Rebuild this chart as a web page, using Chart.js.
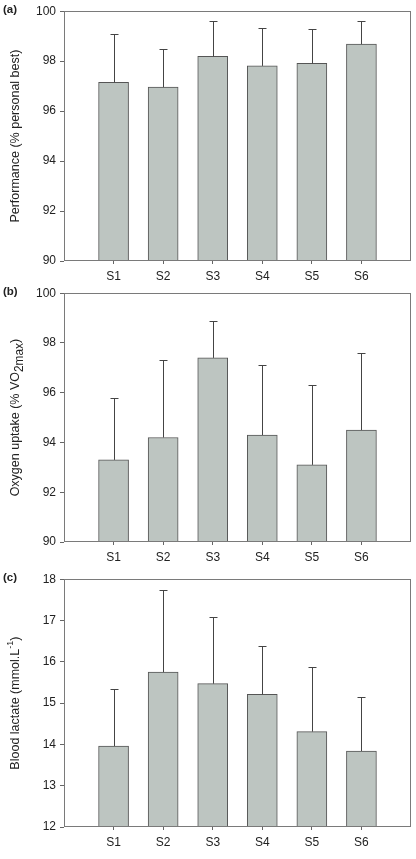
<!DOCTYPE html>
<html><head><meta charset="utf-8">
<script src="https://cdn.jsdelivr.net/npm/chart.js@4"></script>
<style>
html,body{margin:0;padding:0;background:#fff}
body{width:416px;height:859px;position:relative;overflow:hidden}
canvas{position:absolute;left:0}
</style></head>
<body>
<canvas id="ca" width="416" height="291" style="top:0px"></canvas>
<canvas id="cb" width="416" height="290" style="top:282px"></canvas>
<canvas id="cc" width="416" height="289" style="top:568px"></canvas>
<script>
// ---- data ----
const categories = ['S1','S2','S3','S4','S5','S6'];
const performanceMean = [97.15, 96.96, 98.19, 97.81, 97.91, 98.68];
const performanceSD   = [1.92, 1.51, 1.41, 1.52, 1.36, 0.91];
const oxygenMean = [93.3, 94.2, 97.4, 94.3, 93.1, 94.5];
const oxygenSD   = [2.5, 3.1, 1.5, 2.8, 3.2, 3.1];
const lactateMean = [13.96, 15.75, 15.47, 15.21, 14.31, 13.84];
const lactateSD   = [1.39, 1.99, 1.61, 1.18, 1.57, 1.30];
const performanceTicks = {min: 90, max: 100, step: 2};
const oxygenTicks = {min: 90, max: 100, step: 2};
const lactateTicks = {min: 12, max: 18, step: 1};

const FONT = "'Liberation Sans', Arial, Helvetica, sans-serif";
const TEXT = '#222';
const FRAME = '#7a7a7a';

const errorBars = {
  id: 'errorBars',
  afterDatasetsDraw(chart, args, opts) {
    const ctx = chart.ctx, meta = chart.getDatasetMeta(0), ys = chart.scales.y;
    const sd = opts.sd;
    ctx.save();
    ctx.strokeStyle = '#444'; ctx.lineWidth = 1;
    meta.data.forEach((el, i) => {
      const v = chart.data.datasets[0].data[i];
      if (v == null) return;
      const s = sd[i - 1];
      const x = Math.round(el.x) + 0.5;
      const yt = Math.round(ys.getPixelForValue(v + s)) + 0.5;
      const yb = el.y;
      ctx.beginPath();
      ctx.moveTo(x, yb); ctx.lineTo(x, yt);
      ctx.moveTo(x - 4, yt); ctx.lineTo(x + 4, yt);
      ctx.stroke();
    });
    ctx.restore();
  }
};

const frameAndLabels = {
  id: 'frameAndLabels',
  afterDraw(chart, args, opts) {
    const ctx = chart.ctx, a = chart.chartArea;
    ctx.save();
    ctx.strokeStyle = FRAME; ctx.lineWidth = 1;
    const l = Math.round(a.left) + 0.5, t = Math.round(a.top) + 0.5;
    const r = Math.round(a.right) - 0.5, b = Math.round(a.bottom) - 0.5;
    ctx.strokeRect(l, t, r - l, b - t);
    // panel label
    ctx.fillStyle = TEXT;
    ctx.font = "bold 11.5px " + FONT;
    ctx.textBaseline = 'middle'; ctx.textAlign = 'left';
    ctx.fillText(opts.panel, 3, a.top - 1);
    // y title (rich text)
    const size = 12.5;
    const segs = opts.title;
    ctx.translate(16, (a.top + a.bottom) / 2);
    ctx.rotate(-Math.PI / 2);
    const fontOf = s => (s.sub ? (size * 0.95) : s.sup ? (size * 0.72) : size) + "px " + FONT;
    let total = 0;
    const widths = segs.map(s => { ctx.font = fontOf(s); const w = ctx.measureText(s.t).width; total += w; return w; });
    let x = -total / 2;
    segs.forEach((s, i) => {
      ctx.font = fontOf(s);
      ctx.fillText(s.t, x, s.sub ? 4 : s.sup ? -5 : 0);
      x += widths[i];
    });
    ctx.restore();
  }
};

function makeChart(id, mean, sd, tk, panel, title) {
  const labels = [''].concat(categories, ['']);
  const data = [null].concat(mean, [null]);
  return new Chart(document.getElementById(id), {
    type: 'bar',
    data: { labels, datasets: [{
      data,
      backgroundColor: '#bdc5c1',
      borderColor: '#555',
      borderWidth: 1,
      barThickness: 30
    }]},
    options: {
      responsive: false,
      animation: false,
      devicePixelRatio: 1,
      layout: { padding: { top: 11, right: 5, bottom: 0, left: 0 } },
      plugins: {
        legend: { display: false },
        tooltip: { enabled: false },
        errorBars: { sd },
        frameAndLabels: { panel, title }
      },
      scales: {
        x: {
          type: 'category',
          offset: false,
          border: { display: false },
          grid: {
            offset: false,
            drawOnChartArea: false, drawTicks: true, tickLength: 3,
            color: ctx => (ctx.tick && ctx.tick.label) ? '#666' : 'rgba(0,0,0,0)'
          },
          ticks: { color: TEXT, font: { family: FONT, size: 12 }, padding: 5, autoSkip: false, maxRotation: 0 },
          afterFit: s => { s.height = 30; }
        },
        y: {
          min: tk.min, max: tk.max,
          border: { display: false },
          grid: { drawOnChartArea: false, drawTicks: true, tickLength: 4, color: '#666' },
          ticks: { stepSize: tk.step, color: TEXT, font: { family: FONT, size: 12 }, padding: 4 },
          afterFit: s => { s.width = 64; }
        }
      }
    },
    plugins: [errorBars, frameAndLabels]
  });
}

makeChart('ca', performanceMean, performanceSD, performanceTicks, '(a)',
  [{t: 'Performance (% personal best)'}]);
makeChart('cb', oxygenMean, oxygenSD, oxygenTicks, '(b)',
  [{t: 'Oxygen uptake (% VO'}, {t: '2max', sub: true}, {t: ')'}]);
makeChart('cc', lactateMean, lactateSD, lactateTicks, '(c)',
  [{t: 'Blood lactate (mmol.L'}, {t: '-1', sup: true}, {t: ')'}]);
</script>
</body></html>
